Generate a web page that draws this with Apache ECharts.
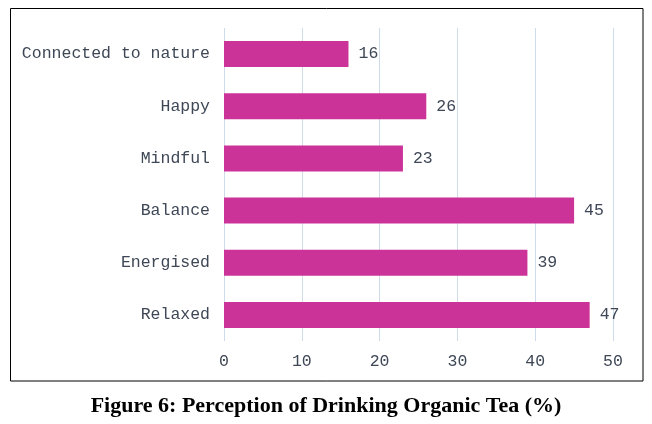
<!DOCTYPE html>
<html>
<head>
<meta charset="utf-8">
<script src="https://cdn.jsdelivr.net/npm/echarts@6/dist/echarts.min.js"></script>
<style>
  html, body { margin: 0; padding: 0; background: #fff; }
  #chart { width: 652px; height: 424px; }
</style>
</head>
<body>
<div id="chart"></div>
<script>
// data, bottom to top as the category axis draws it
const categories = ["Relaxed", "Energised", "Balance", "Mindful", "Happy", "Connected to nature"];
const percentValues = [47, 39, 45, 23, 26, 16];
const xTicks = [0, 10, 20, 30, 40, 50];
const figureTitle = "Figure 6: Perception of Drinking Organic Tea (%)";

const chart = echarts.init(document.getElementById("chart"));

const textColor = "#3e4756";
const monoFont = "'Liberation Mono', 'DejaVu Sans Mono', monospace";

chart.setOption({
  animation: false,
  title: {
    text: figureTitle,
    left: "center",
    top: 390,
    textStyle: {
      fontFamily: "'Liberation Serif', 'Times New Roman', serif",
      fontWeight: "bold",
      fontSize: 22,
      color: "#000",
    },
  },
  graphic: [
    {
      type: "rect",
      shape: { x: 10.5, y: 8.5, width: 632.5, height: 372.5 },
      style: { fill: null, stroke: "#000", lineWidth: 1 },
      silent: true,
    },
  ],
  grid: { left: 224, right: 39, top: 28, bottom: 83 },
  xAxis: {
    type: "value",
    min: xTicks[0],
    max: xTicks[xTicks.length - 1],
    interval: 10,
    axisLine: { show: false },
    axisTick: { show: false },
    splitLine: { lineStyle: { color: "#cddbea", width: 1 } },
    axisLabel: {
      margin: 12,
      fontFamily: monoFont,
      fontSize: 16.5,
      color: textColor,
    },
  },
  yAxis: {
    type: "category",
    data: categories,
    axisLine: { show: false },
    axisTick: { show: false },
    axisLabel: {
      margin: 14,
      fontFamily: monoFont,
      fontSize: 16.5,
      color: textColor,
    },
  },
  series: [
    {
      type: "bar",
      data: percentValues,
      barWidth: 26,
      itemStyle: { color: "#cc3399" },
      label: {
        show: true,
        position: "right",
        distance: 10,
        fontFamily: monoFont,
        fontSize: 16.5,
        color: textColor,
      },
    },
  ],
});
</script>
</body>
</html>
